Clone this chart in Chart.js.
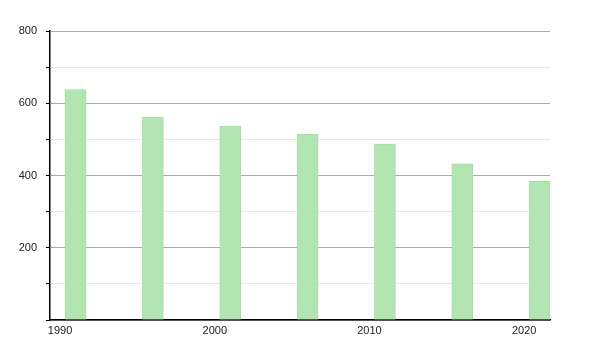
<!DOCTYPE html>
<html>
<head>
<meta charset="utf-8">
<script src="https://cdn.jsdelivr.net/npm/chart.js@4"></script>
<style>
  html, body { margin: 0; padding: 0; background: #fff; }
  #wrap { width: 600px; height: 350px; position: relative; }
</style>
</head>
<body>
<div id="wrap"><canvas id="chart"></canvas></div>
<script>
// ── Data ──────────────────────────────────────────────
const years = [1991, 1996, 2001, 2006, 2011, 2016, 2021];
const values = [638, 561, 537, 514, 487, 432, 384];
const xTicks = [1990, 2000, 2010, 2020];
const yLabelled = [200, 400, 600, 800];

// ── Chart ─────────────────────────────────────────────
Chart.defaults.font.family = "'Liberation Sans', Arial, sans-serif";
Chart.defaults.font.size = 11;
Chart.defaults.color = "#222";

new Chart(document.getElementById("chart"), {
  type: "bar",
  data: {
    datasets: [{
      data: years.map((y, i) => ({ x: y, y: values[i] })),
      backgroundColor: "#b2e5b2",
      borderColor: "#a9dca9",
      borderWidth: 1,
      barThickness: 21
    }]
  },
  options: {
    responsive: true,
    maintainAspectRatio: false,
    animation: false,
    layout: { padding: { top: 31, right: 50, bottom: 0, left: 0 } },
    plugins: { legend: { display: false }, tooltip: { enabled: false } },
    scales: {
      x: {
        type: "linear",
        offset: false,
        min: 1989.35,
        max: 2021.67,
        afterFit: (s) => { s.height = 30; },
        afterBuildTicks: (s) => { s.ticks = xTicks.map((v) => ({ value: v })); },
        grid: { display: false, drawTicks: false, offset: false },
        border: { display: true, color: "#000", width: 1.5 },
        ticks: { padding: 4, maxRotation: 0, callback: (v) => String(v) }
      },
      y: {
        min: 0,
        max: 800,
        afterFit: (s) => { s.width = 50; },
        border: { display: true, color: "#000", width: 1.5 },
        grid: {
          color: (c) => (c.tick && c.tick.value % 200 === 0 ? "#aaaaaa" : "#e8e8e8"),
          tickColor: "#000",
          tickLength: 4
        },
        ticks: {
          stepSize: 100,
          padding: 9,
          callback: (v) => (yLabelled.includes(v) ? String(v) : "")
        }
      }
    }
  }
});
</script>
</body>
</html>
